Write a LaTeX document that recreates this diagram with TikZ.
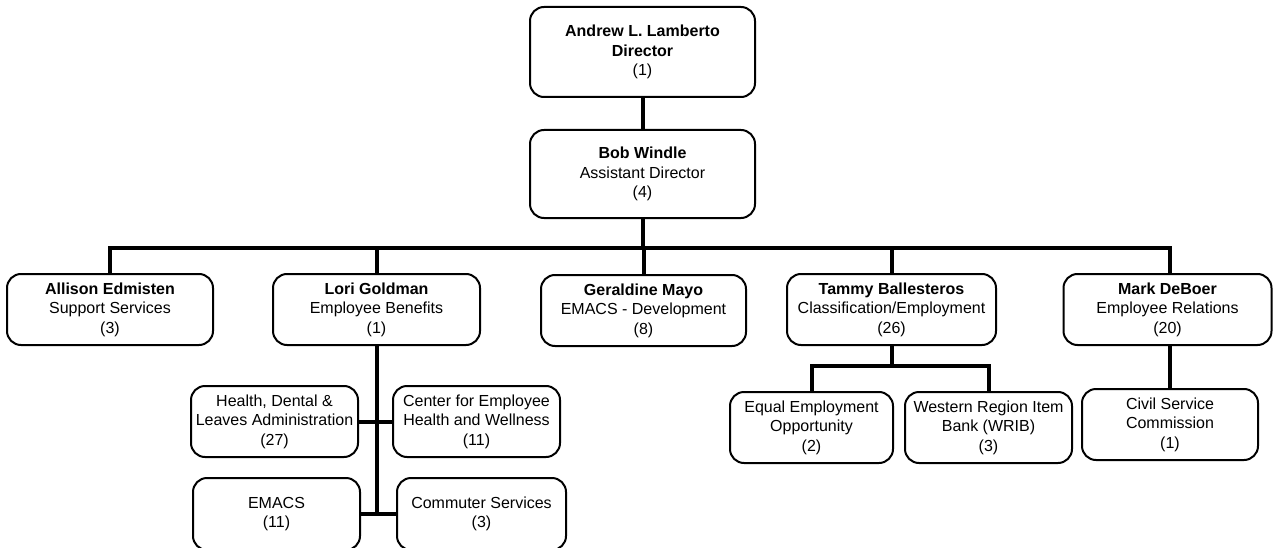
\documentclass[tikz,border=0pt]{standalone}
\usepackage{fontspec}
\setmainfont{Liberation Sans}
\begin{document}
\begin{tikzpicture}[x=1pt,y=-1pt,
  unit/.style={draw=black, line width=2pt, rounded corners=14pt, align=center,
    inner sep=0pt, font=\fontsize{16}{19.5}\selectfont, text=black},
  link/.style={line width=4pt, black}]
\useasboundingbox (0,0) rectangle (1276,548);
\fill[white] (0,0) rectangle (1276,548);
% top of the chart
\node[unit, minimum width=225pt, minimum height=90pt] (dir) at (642.5,52) {\textbf{Andrew L. Lamberto}\\\textbf{Director}\\(1)};
\node[unit, minimum width=225pt, minimum height=88pt] (asst) at (642.5,174) {\textbf{Bob Windle}\\Assistant Director\\(4)};
% section heads
\node[unit, minimum width=206pt, minimum height=71pt] (allison) at (110,309.5) {\textbf{Allison Edmisten}\\Support Services\\(3)};
\node[unit, minimum width=207pt, minimum height=71pt] (lori) at (376.5,309.5) {\textbf{Lori Goldman}\\Employee Benefits\\(1)};
\node[unit, minimum width=205pt, minimum height=71pt] (geraldine) at (643.5,310.5) {\textbf{Geraldine Mayo}\\EMACS - Development\\(8)};
\node[unit, minimum width=209pt, minimum height=71pt] (tammy) at (891.5,309.5) {\textbf{Tammy Ballesteros}\\Classification/Employment\\(26)};
\node[unit, minimum width=208pt, minimum height=71pt] (mark) at (1167.5,309.5) {\textbf{Mark DeBoer}\\Employee Relations\\(20)};
% employee benefits units
\node[unit, minimum width=167pt, minimum height=71pt] (health) at (274.5,421.5) {Health, Dental \&\\Leaves Administration\\(27)};
\node[unit, minimum width=167pt, minimum height=71pt] (wellness) at (476.5,421.5) {Center for Employee\\Health and Wellness\\(11)};
\node[unit, minimum width=167pt, minimum height=72pt] (emacs) at (276.5,514) {EMACS\\(11)};
\node[unit, minimum width=169pt, minimum height=72pt] (commuter) at (481.5,514) {Commuter Services\\(3)};
% classification units
\node[unit, minimum width=163pt, minimum height=71pt] (eeo) at (811.5,427.5) {Equal Employment\\Opportunity\\(2)};
\node[unit, minimum width=167pt, minimum height=71pt] (wrib) at (988.5,427.5) {Western Region Item\\Bank (WRIB)\\(3)};
% employee relations unit
\node[unit, minimum width=176pt, minimum height=71pt] (civil) at (1170,424.5) {Civil Service\\Commission\\(1)};
% connectors
\coordinate (bar) at (642.5,248);
\draw[link] (dir.south) -- (asst.north);
\draw[link] (asst.south) -- (bar);
\draw[link] (allison.north) |- (bar) -| (civil.north |- mark.north);
\foreach \n in {lori,geraldine,tammy} \draw[link] (\n.north) -- (\n.north |- bar);
\coordinate (lbot) at (376.5,514);
\draw[link] (lori.south) -- (lbot);
\draw[link] (health.east) -- (wellness.west);
\draw[link] (emacs.east) -- (commuter.west);
\coordinate (tb) at (891.5,366);
\draw[link] (tammy.south) -- (tb);
\draw[link] (eeo.north) |- (tb) -| (wrib.north);
\draw[link] (civil.north |- mark.south) -- (civil.north);
\end{tikzpicture}
\end{document}
